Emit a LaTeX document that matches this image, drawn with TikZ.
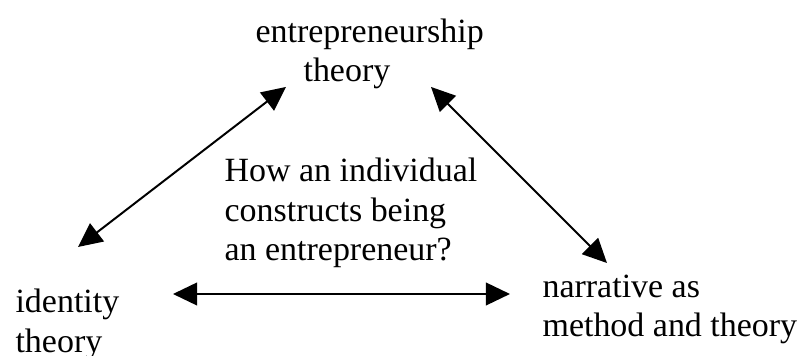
\documentclass[tikz,border=0pt]{standalone}
\usepackage{fontspec}
\setmainfont{Liberation Serif}
\usepackage{tikz}
\usetikzlibrary{arrows.meta}
\tikzset{concept/.style={inner sep=0pt,align=left,anchor=base west,font=\fontsize{12}{14}\selectfont},link/.style={{Triangle[length=8.5pt,width=8pt]}-{Triangle[length=8.5pt,width=8pt]},line width=.7pt},every picture/.style={line cap=butt}}
\begin{document}
\begin{tikzpicture}[x=1cm,y=1cm]
\useasboundingbox (0,0) rectangle (10,4.422);
\node[concept] (ent) at (3.168,3.404) {entrepreneurship\\\hspace*{0.596cm}theory};
\node[concept] (quest) at (2.783,1.180) {How an individual\\constructs being\\an entrepreneur?};
\node[concept] (ident) at (0.186,0.045) {identity\\theory};
\node[concept] (narr) at (6.733,0.236) {narrative as\\method and theory};
\coordinate (entL) at (3.553,3.342);
\coordinate (entR) at (5.354,3.342);
\coordinate (identT) at (0.969,1.354);
\coordinate (identR) at (2.149,0.770);
\coordinate (narrT) at (7.540,1.155);
\coordinate (narrL) at (6.335,0.770);
\draw[link] (identT)--(entL);
\draw[link] (entR)--(narrT);
\draw[link] (identR)--(narrL);
\end{tikzpicture}
\end{document}
